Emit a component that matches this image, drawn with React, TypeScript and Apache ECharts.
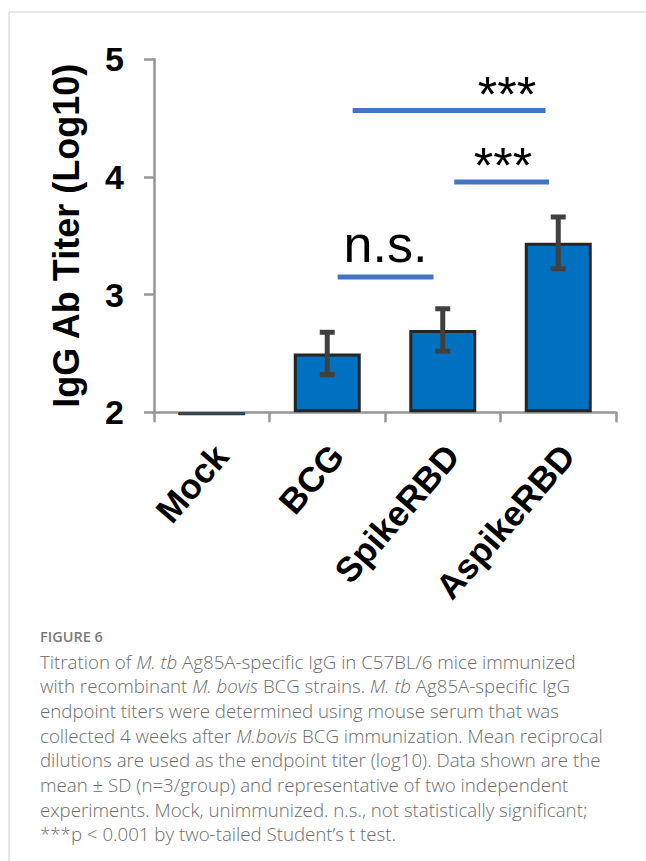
import React, { useEffect, useRef } from "react";
import * as echarts from "echarts";

// ---- data ----
const categories = ["Mock", "BCG", "SpikeRBD", "AspikeRBD"];
const meanTiter = [1.975, 2.5, 2.7, 3.44];
const sdTiter = [0, 0.18, 0.18, 0.22];
const yMin = 2;
const yMax = 5;
const yInterval = 1;

// significance annotations (x in category index units, y in log10 titer units)
const sigLineStart = [1.22, 2.1, 1.09];
const sigLineEnd = [2.89, 2.92, 1.92];
const sigLineY = [4.565, 3.957, 3.15];
const sigLabels = ["***", "***", "n.s."];
const sigLabelX = [2.556, 2.522, 1.504];
const sigLabelY = [4.696, 4.096, 3.434];

const captionTitle = "FIGURE 6";
// each line: segments, italic ones marked true
const captionLines: Array<Array<[string, boolean]>> = [
  [["Titration of ", false], ["M. tb", true], [" Ag85A-specific IgG in C57BL/6 mice immunized", false]],
  [["with recombinant ", false], ["M. bovis", true], [" BCG strains. ", false], ["M. tb", true], [" Ag85A-specific IgG", false]],
  [["endpoint titers were determined using mouse serum that was", false]],
  [["collected 4 weeks after ", false], ["M.bovis", true], [" BCG immunization. Mean reciprocal", false]],
  [["dilutions are used as the endpoint titer (log10). Data shown are the", false]],
  [["mean \u00B1 SD (n=3/group) and representative of two independent", false]],
  [["experiments. Mock, unimmunized. n.s., not statistically significant;", false]],
  [["***p < 0.001 by two-tailed Student\u2019s t test.", false]],
];

const FONT = "'Liberation Sans', Arial, sans-serif";
const CAPFONT = "'Open Sans', 'Noto Sans', sans-serif";

export default function App() {
  const ref = useRef<HTMLDivElement>(null);
  useEffect(() => {
    if (!ref.current) return;
    const chart = echarts.init(ref.current, undefined, { renderer: "svg" });

    const capColor = "#6c6c6c";
    const captionGraphics: any[] = captionLines.map((segs, i) => ({
      type: "text",
      x: 40,
      y: 661 + i * 24.7,
      style: {
        text: segs.map(([t, it]) => `{${it ? "i" : "n"}|${t}}`).join(""),
        rich: {
          n: { fontFamily: CAPFONT, fontSize: 18.7, fontWeight: 300, fill: capColor, color: capColor },
          i: { fontFamily: CAPFONT, fontSize: 18.7, fontWeight: 300, fontStyle: "italic", fill: capColor, color: capColor },
        },
        verticalAlign: "middle",
        textVerticalAlign: "middle",
      },
    }));

    const barData = meanTiter.map((v, i) =>
      i === 0 ? { value: v, itemStyle: { borderWidth: 1 } } : v
    );

    const option: any = {
      animation: false,
      backgroundColor: "#ffffff",
      grid: { left: 154, right: 30, top: 59.3, bottom: 448.7, containLabel: false },
      xAxis: [
        {
          type: "category",
          data: categories,
          axisLine: { lineStyle: { color: "#969696", width: 2.5 } },
          axisTick: { show: true, length: 10, lineStyle: { color: "#969696", width: 2.5 } },
          axisLabel: {
            interval: 0,
            rotate: 49,
            margin: 29,
            verticalAlign: "top",
            lineHeight: 25,
            fontSize: 35,
            fontWeight: "bold",
            fontFamily: FONT,
            color: "#000",
          },
        },
        { type: "value", min: -0.5, max: 3.5, show: false },
      ],
      yAxis: {
        type: "value",
        min: yMin,
        max: yMax,
        startValue: yMin,
        interval: yInterval,
        name: "IgG Ab Titer (Log10)",
        nameLocation: "middle",
        nameGap: 70,
        nameTextStyle: { fontSize: 36, fontWeight: "bold", fontFamily: FONT, color: "#000" },
        axisLine: { show: true, onZero: false, lineStyle: { color: "#969696", width: 2.5 } },
        axisTick: { show: true, length: 10, lineStyle: { color: "#969696", width: 2.5 } },
        axisLabel: { margin: 30, fontSize: 34, fontWeight: "bold", fontFamily: FONT, color: "#000" },
        splitLine: { show: false },
      },
      series: [
        {
          type: "bar",
          data: barData,
          barWidth: "58%",
          clip: false,
          itemStyle: { color: "#0070C0", borderColor: "#262626", borderWidth: 3 },
        },
        {
          type: "custom",
          clip: false,
          z: 5,
          data: meanTiter.map((m, i) => [i, m, sdTiter[i]]),
          renderItem: (params: any, api: any) => {
            const i = api.value(0);
            const m = api.value(1);
            const sd = api.value(2);
            if (!sd) return { type: "group", children: [] };
            const top = api.coord([i, m + sd]);
            const bot = api.coord([i, m - sd]);
            const hw = 7.5;
            const st = { stroke: "#404040", lineWidth: 5 };
            return {
              type: "group",
              children: [
                { type: "line", shape: { x1: top[0], y1: top[1], x2: bot[0], y2: bot[1] }, style: st },
                { type: "line", shape: { x1: top[0] - hw, y1: top[1], x2: top[0] + hw, y2: top[1] }, style: st },
                { type: "line", shape: { x1: bot[0] - hw, y1: bot[1], x2: bot[0] + hw, y2: bot[1] }, style: st },
              ],
            };
          },
        },
        {
          type: "custom",
          xAxisIndex: 1,
          clip: false,
          z: 6,
          data: sigLabels.map((_, i) => [sigLineStart[i], sigLineEnd[i], sigLineY[i], sigLabelX[i], sigLabelY[i], i]),
          renderItem: (params: any, api: any) => {
            const a = api.coord([api.value(0), api.value(2)]);
            const b = api.coord([api.value(1), api.value(2)]);
            const t = api.coord([api.value(3), api.value(4)]);
            const idx = api.value(5);
            const label = sigLabels[idx];
            const isNs = label === "n.s.";
            return {
              type: "group",
              children: [
                {
                  type: "line",
                  shape: { x1: a[0], y1: a[1], x2: b[0], y2: b[1] },
                  style: { stroke: "#4472C4", lineWidth: 5 },
                },
                {
                  type: "text",
                  x: t[0],
                  y: t[1],
                  style: {
                    text: label,
                    fontSize: isNs ? 52 : 50,
                    fontFamily: FONT,
                    fill: "#000",
                    align: "center",
                    verticalAlign: "middle",
                    textAlign: "center",
                    textVerticalAlign: "middle",
                  },
                },
              ],
            };
          },
        },
      ],
      graphic: [
        { type: "line", shape: { x1: 9, y1: 12, x2: 646, y2: 12 }, style: { stroke: "#cccccc", lineWidth: 1 } },
        { type: "line", shape: { x1: 9, y1: 12, x2: 9, y2: 861 }, style: { stroke: "#cccccc", lineWidth: 1 } },
        {
          type: "text",
          x: 40,
          y: 636.5,
          style: {
            text: captionTitle,
            fontFamily: CAPFONT,
            fontSize: 14.5,
            fontWeight: 600,
            fill: "#7a7a7a",
            verticalAlign: "middle",
            textVerticalAlign: "middle",
          },
        },
        ...captionGraphics,
      ],
    };
    chart.setOption(option);
    return () => chart.dispose();
  }, []);
  return (
    <div
      ref={ref}
      style={{ position: "fixed", left: 0, top: 0, width: 646, height: 861, background: "#fff" }}
    />
  );
}
